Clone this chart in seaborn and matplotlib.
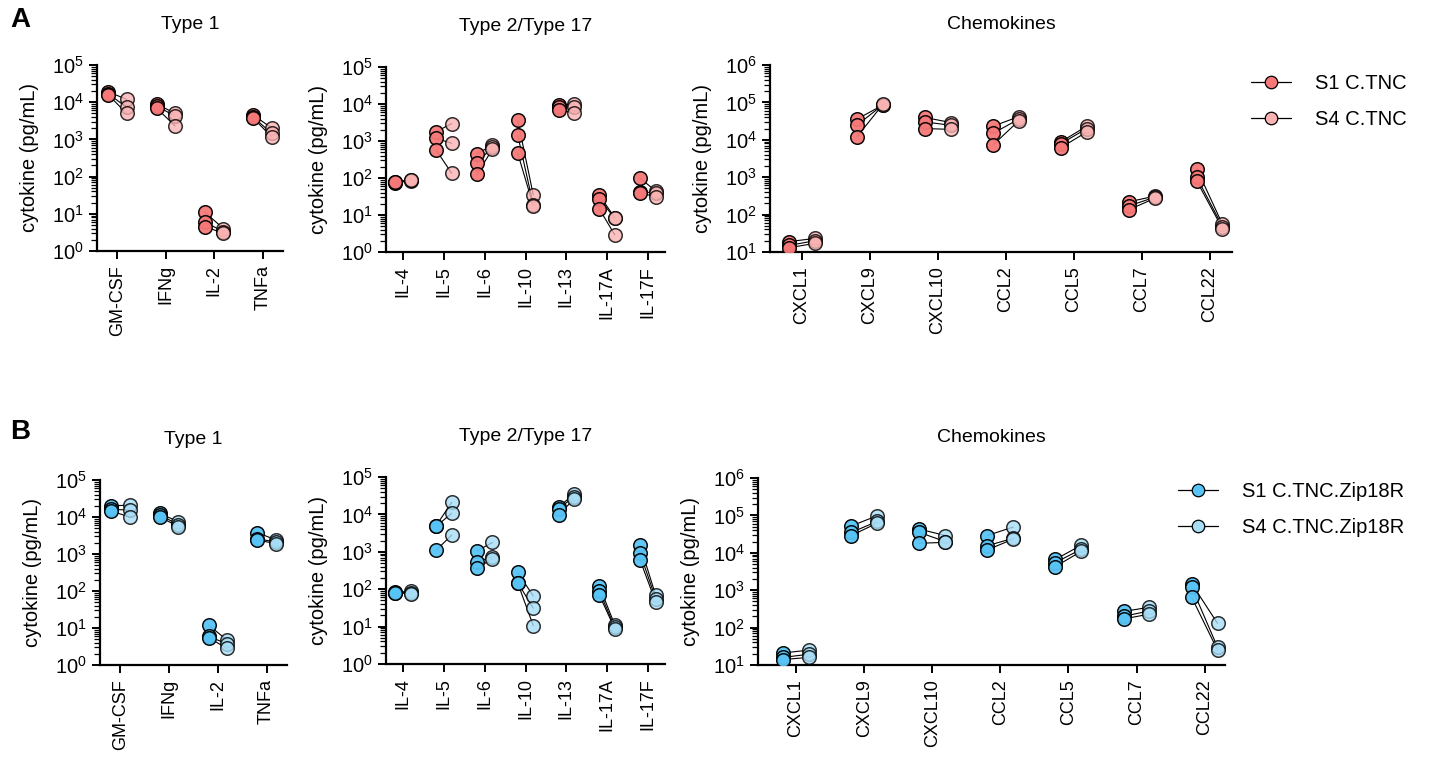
import numpy as np
import pandas as pd
import seaborn as sns
import matplotlib.pyplot as plt
from matplotlib.lines import Line2D
from matplotlib.ticker import LogLocator, NullFormatter

type1_cyt = ["GM-CSF", "IFNg", "IL-2", "TNFa"]
type2_cyt = ["IL-4", "IL-5", "IL-6", "IL-10", "IL-13", "IL-17A", "IL-17F"]
chemo_cyt = ["CXCL1", "CXCL9", "CXCL10", "CCL2", "CCL5", "CCL7", "CCL22"]

# panel A : C.TNC  (3 donors, S1 -> S4)
a_type1_s1 = [[19000, 17000, 16000], [9000, 8000, 7000], [11, 6, 4.5], [4500, 3900, 3700]]
a_type1_s4 = [[12000, 7300, 5000], [5000, 4200, 2300], [4, 3.3, 3], [2000, 1450, 1150]]
a_type2_s1 = [[75, 78, 80], [1780, 1170, 570], [445, 250, 126], [3650, 1430, 465],
              [9300, 8400, 6800], [35, 27, 14.5], [98, 42, 40]]
a_type2_s4 = [[83, 86, 88], [2960, 870, 134], [780, 700, 600], [35, 19, 18],
              [9900, 8400, 5800], [8.3, 8.2, 2.9], [45, 40, 31]]
a_chemo_s1 = [[19, 15, 13], [35600, 24500, 12000], [39500, 30000, 20000],
              [23000, 14800, 7200], [8800, 7800, 6200], [220, 170, 135], [1700, 1000, 800]]
a_chemo_s4 = [[23, 20, 17], [85000, 86000, 88000], [29000, 24500, 19000],
              [41500, 35500, 32000], [23000, 20000, 16000], [310, 290, 270], [55, 48, 42]]

# panel B : C.TNC.Zip18R
b_type1_s1 = [[20000, 16000, 14500], [12500, 11500, 10000], [12, 6, 5.5], [3800, 2600, 2400]]
b_type1_s4 = [[21000, 15500, 10000], [7400, 6100, 5500], [4.7, 3.7, 2.8], [2400, 2100, 1900]]
b_type2_s1 = [[81, 82, 80], [5000, 4800, 1100], [1050, 540, 360], [280, 150, 145],
              [15500, 14000, 9700], [122, 90, 70], [1500, 910, 600]]
b_type2_s4 = [[90, 80, 76], [21000, 10700, 2800], [1780, 740, 660], [66, 31, 10.7],
              [35500, 30000, 25700], [11, 9.5, 8.7], [69, 56, 46]]
b_chemo_s1 = [[21, 16, 14], [52000, 35000, 29000], [43000, 35000, 18000],
              [29000, 15500, 12000], [6700, 5500, 4300], [270, 200, 170], [1500, 1200, 650]]
b_chemo_s4 = [[25, 19.4, 16], [98000, 69000, 62000], [29000, 20000, 19000],
              [49000, 24500, 23300], [16000, 12500, 11000], [350, 280, 230], [130, 30, 25]]

groups_a = ["S1 C.TNC", "S4 C.TNC"]
groups_b = ["S1 C.TNC.Zip18R", "S4 C.TNC.Zip18R"]
colors_a = ["#F67878", "#F9B3B3"]
colors_b = ["#58C4F6", "#A8DDF6"]

sns.set_theme(style="ticks")
plt.rcParams["font.family"] = ["Liberation Sans", "DejaVu Sans"]
plt.rcParams["axes.linewidth"] = 1.6
for k in ["text.color", "axes.labelcolor", "xtick.color", "ytick.color", "axes.edgecolor"]:
    plt.rcParams[k] = "black"

fig = plt.figure(figsize=(14.29, 7.62), dpi=100)
W, H = 1429, 762


def make_ax(left, top, right, bottom):
    return fig.add_axes([left / W, 1 - bottom / H, (right - left) / W, (bottom - top) / H])


def draw_panel(ax, cyts, s1, s4, colors, names, ylim, title, off=0.19):
    rows = []
    for j, c in enumerate(cyts):
        for r in range(3):
            rows.append(dict(x=j - off, value=s1[j][r], group=names[0], pair=f"{c}_{r}"))
            rows.append(dict(x=j + off, value=s4[j][r], group=names[1], pair=f"{c}_{r}"))
    df = pd.DataFrame(rows)
    sns.lineplot(data=df, x="x", y="value", units="pair", estimator=None, sort=False,
                 color="black", lw=0.8, ax=ax, legend=False, zorder=2)
    for g, col, a in zip(names, colors, [0.95, 0.8]):
        sub = df[df["group"] == g]
        sns.scatterplot(data=sub, x="x", y="value", color=col, s=95, alpha=a,
                        edgecolor="black", linewidth=1.1, ax=ax, legend=False, zorder=3)
    ax.set_yscale("log")
    ax.set_ylim(*ylim)
    ax.yaxis.set_major_locator(LogLocator(base=10, numticks=20))
    ax.yaxis.set_minor_locator(LogLocator(base=10, subs=np.arange(2, 10), numticks=20))
    ax.yaxis.set_minor_formatter(NullFormatter())
    n = len(cyts)
    ax.set_xlim(-0.42, n - 1 + 0.42)
    ax.set_xticks(range(n))
    ax.set_xticklabels(cyts, rotation=90, fontsize=13)
    ax.set_xlabel("")
    ax.set_ylabel("cytokine (pg/mL)", fontsize=14.5, labelpad=9)
    ax.tick_params(axis="y", which="major", length=6, width=1.4, labelsize=14.5)
    ax.tick_params(axis="y", which="minor", length=4, width=0.9)
    ax.tick_params(axis="x", length=6, width=1.4, pad=4)
    ax.set_title(title, fontsize=14, pad=26)
    sns.despine(ax=ax)


def legend(names, colors, x, y):
    handles = [Line2D([0], [0], color="black", lw=0.9, marker="o", markersize=9,
                      markerfacecolor=c, markeredgecolor="black", markeredgewidth=0.9)
               for c in colors]
    fig.legend(handles, names, loc="upper left", bbox_to_anchor=(x / W, 1 - y / H),
               bbox_transform=fig.transFigure, frameon=False, fontsize=14.5,
               handlelength=2.0, handletextpad=1.2, labelspacing=0.85,
               borderpad=0, borderaxespad=0)


# row A
ax = make_ax(97, 65, 283, 251)
draw_panel(ax, type1_cyt, a_type1_s1, a_type1_s4, colors_a, groups_a, (1, 1e5), "Type 1")
ax = make_ax(386, 67, 665, 252)
draw_panel(ax, type2_cyt, a_type2_s1, a_type2_s4, colors_a, groups_a, (1, 1e5), "Type 2/Type 17")
ax = make_ax(770, 65, 1232, 252)
draw_panel(ax, chemo_cyt, a_chemo_s1, a_chemo_s4, colors_a, groups_a, (10, 1e6), "Chemokines")
ax.set_xlim(-0.47, 6.33)
legend(groups_a, colors_a, 1251, 74)

# row B
ax = make_ax(100, 480, 287, 665)
draw_panel(ax, type1_cyt, b_type1_s1, b_type1_s4, colors_b, groups_b, (1, 1e5), "Type 1")
ax = make_ax(386, 477, 665, 664)
draw_panel(ax, type2_cyt, b_type2_s1, b_type2_s4, colors_b, groups_b, (1, 1e5), "Type 2/Type 17")
ax = make_ax(758, 478, 1225, 665)
draw_panel(ax, chemo_cyt, b_chemo_s1, b_chemo_s4, colors_b, groups_b, (10, 1e6), "Chemokines")
ax.set_xlim(-0.56, 6.3)
legend(groups_b, colors_b, 1178, 482)

fig.text(10 / W, 1 - 20 / H, "A", fontsize=20, fontweight="bold", va="center", ha="left")
fig.text(10 / W, 1 - 432 / H, "B", fontsize=20, fontweight="bold", va="center", ha="left")

fig.savefig("out.png", dpi=100)
